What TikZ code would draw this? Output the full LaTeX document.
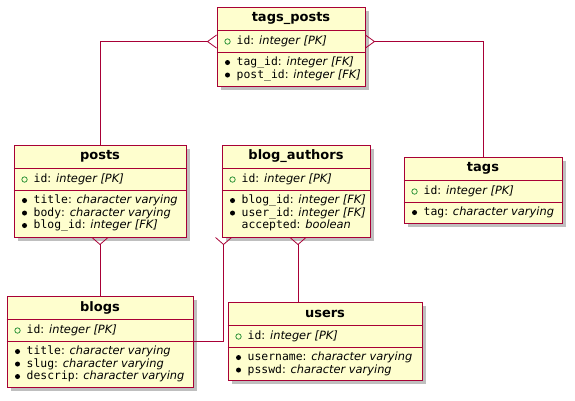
\documentclass[tikz,border=0pt]{standalone}
\usepackage{fontspec}
\setmainfont{DejaVu Sans}
\setmonofont{DejaVu Sans Mono}
\usetikzlibrary{fit,shadows}
\definecolor{bordc}{HTML}{A80036}
\definecolor{fillc}{HTML}{FEFECE}
\definecolor{pkc}{RGB}{50,150,60}
\tikzset{
  tbl/.style={draw=bordc, fill=fillc, line width=0.95pt, inner sep=0pt,
    drop shadow={shadow xshift=3.5pt, shadow yshift=-3.5pt, fill=black, opacity=0.25}},
  ttl/.style={font=\fontsize{13}{15}\selectfont\bfseries, inner sep=0pt, anchor=center},
  fld/.style={anchor=west, inner sep=0pt, font=\fontsize{11.4}{13}\selectfont},
  sepline/.style={draw=bordc, line width=0.8pt},
  conn/.style={draw=bordc, line width=0.8pt},
}
\newcommand\ertable[6]{% name, left, top, right, bottom, title
  \node[tbl, fit={(#2,#3)(#4,#5)}] (#1) {};
  \node[ttl] at ([yshift=-12pt]#1.north) {#6};
  \draw[sepline] ([yshift=-24pt]#1.north west) -- ([yshift=-24pt]#1.north east);
  \draw[sepline] ([yshift=-45.5pt]#1.north west) -- ([yshift=-45.5pt]#1.north east);
  \draw[pkc, line width=0.8pt] ([xshift=11pt,yshift=-35pt]#1.north west) circle (2.7pt);
  \node[fld] at ([xshift=20pt,yshift=-35pt]#1.north west) {{\ttfamily id}: \textit{integer [PK]}};
}
\newcommand\fkrow[4]{% name, yoff, field, type
  \fill ([xshift=11pt,yshift=-#2pt]#1.north west) circle (2.5pt);
  \node[fld] at ([xshift=20pt,yshift=-#2pt]#1.north west) {{\ttfamily #3}: \textit{#4}};
}
\newcommand\plainrow[4]{%
  \node[fld] at ([xshift=20pt,yshift=-#2pt]#1.north west) {{\ttfamily #3}: \textit{#4}};
}
\begin{document}
\begin{tikzpicture}[x=1pt,y=-1pt]
\useasboundingbox (0,0) rectangle (575,400);
\fill[white] (0,0) rectangle (575,400);

\ertable{tp}{217}{7}{365}{86.5}{tags\_posts}
\fkrow{tp}{56}{tag\_id}{integer [FK]}
\fkrow{tp}{68.5}{post\_id}{integer [FK]}

\ertable{posts}{14}{145}{186}{237}{posts}
\fkrow{posts}{56}{title}{character varying}
\fkrow{posts}{68.5}{body}{character varying}
\fkrow{posts}{81}{blog\_id}{integer [FK]}

\ertable{ba}{222}{145}{370}{237}{blog\_authors}
\fkrow{ba}{56}{blog\_id}{integer [FK]}
\fkrow{ba}{68.5}{user\_id}{integer [FK]}
\plainrow{ba}{81}{accepted}{boolean}

\ertable{tags}{404}{157}{562}{223.5}{tags}
\fkrow{tags}{56}{tag}{character varying}

\ertable{blogs}{7}{296}{193}{387}{blogs}
\fkrow{blogs}{56}{title}{character varying}
\fkrow{blogs}{68.5}{slug}{character varying}
\fkrow{blogs}{81}{descrip}{character varying}

\ertable{users}{228}{302}{422}{380}{users}
\fkrow{users}{56}{username}{character varying}
\fkrow{users}{68.5}{psswd}{character varying}

% connectors
\coordinate (tpl) at ([yshift=-35pt]tp.north west);
\coordinate (tpr) at ([yshift=-35pt]tp.north east);
\draw[conn] ([xshift=-9pt]tpl) -| (posts.north);
\draw[conn] ([yshift=6.5pt]tpl) -- ([xshift=-9pt]tpl) -- ([yshift=-6.5pt]tpl);
\draw[conn] ([xshift=9pt]tpr) -| (tags.north);
\draw[conn] ([yshift=6.5pt]tpr) -- ([xshift=9pt]tpr) -- ([yshift=-6.5pt]tpr);

\draw[conn] ([yshift=-7pt]posts.south) -- (blogs.north);
\draw[conn] ([xshift=-8pt]posts.south) -- ([yshift=-7pt]posts.south) -- ([xshift=8pt]posts.south);

\coordinate (bal) at ([xshift=2pt]ba.south west);
\coordinate (blr) at ([yshift=-45.5pt]blogs.north east);
\draw[conn] ([yshift=-7pt]bal) |- (blr);
\draw[conn] ([xshift=-8pt]bal) -- ([yshift=-7pt]bal) -- ([xshift=8pt]bal);

\coordinate (bar) at ([xshift=2pt]ba.south);
\draw[conn] ([yshift=-7pt]bar) -- (bar |- users.north);
\draw[conn] ([xshift=-8pt]bar) -- ([yshift=-7pt]bar) -- ([xshift=8pt]bar);
\end{tikzpicture}
\end{document}
